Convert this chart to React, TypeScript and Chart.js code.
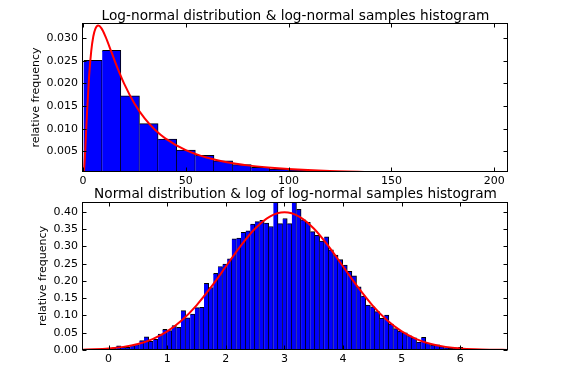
import React, { useEffect, useRef } from "react";
import { Chart, registerables } from "chart.js";

Chart.register(...registerables);
Chart.defaults.color = "#000";
Chart.defaults.font.family = "'DejaVu Sans', sans-serif";

// ---------- text ----------
const topTitle = "Log-normal distribution & log-normal samples histogram";
const bottomTitle = "Normal distribution & log of log-normal samples histogram";
const yLabel = "relative frequency";

// ---------- top chart (log-normal) ----------
const topXRange = [0, 206.7];
const topYRange = [0.00046, 0.03331];
const topXTicks = [0, 50, 100, 150, 200];
const topYTicks = [0.005, 0.01, 0.015, 0.02, 0.025, 0.03];
const topBinStart = 0.29;
const topBinWidth = 9.06;
const topHist = [
  0.02506, 0.02727, 0.01728, 0.01111, 0.00773, 0.00531, 0.00412, 0.00295,
  0.00207, 0.00148, 0.00112, 0.00092, 0.00072, 0.0006, 0.0005, 0.0004,
  0.00032, 0.00026, 0.0002, 0.00016, 0.00013, 0.0001, 0.00008,
];
const topCurveX = [
  0.3, 0.5, 0.75, 1, 1.5, 2, 3, 4, 5, 6, 7.4, 9, 11, 14, 17, 20, 25, 30, 35,
  40, 50, 60, 70, 80, 90, 100, 120, 140, 160, 180, 206.7,
];
const topCurveY = [
  0.00019, 0.00087, 0.00239, 0.00443, 0.00918, 0.01394, 0.02181, 0.02713,
  0.03034, 0.03204, 0.03274, 0.03212, 0.03025, 0.0267, 0.02314, 0.01995,
  0.01558, 0.01227, 0.00977, 0.00787, 0.00527, 0.00365, 0.00262, 0.00192,
  0.00144, 0.0011, 0.00067, 0.00043, 0.00029, 0.0002, 0.00013,
];

// ---------- bottom chart (normal / log of samples) ----------
const lowXRange = [-0.437, 6.813];
const lowYRange = [0, 0.4289];
const lowXTicks = [0, 1, 2, 3, 4, 5, 6];
const lowYTicks = [0, 0.05, 0.1, 0.15, 0.2, 0.25, 0.3, 0.35, 0.4];
const lowBinStart = -0.0262;
const lowBinWidth = 0.0788;
const lowHist = [
  0.004, 0.006, 0.012, 0.008, 0.008, 0.013, 0.016, 0.027, 0.038, 0.025,
  0.031, 0.046, 0.06, 0.056, 0.071, 0.066, 0.114, 0.093, 0.104, 0.123,
  0.124, 0.193, 0.181, 0.222, 0.242, 0.249, 0.264, 0.322, 0.324, 0.341,
  0.345, 0.365, 0.372, 0.376, 0.368, 0.358, 0.435, 0.366, 0.381, 0.366,
  0.435, 0.408, 0.377, 0.37, 0.343, 0.332, 0.316, 0.328, 0.29, 0.275,
  0.262, 0.246, 0.228, 0.215, 0.183, 0.156, 0.13, 0.125, 0.111, 0.092,
  0.101, 0.075, 0.062, 0.054, 0.05, 0.041, 0.035, 0.023, 0.037, 0.019,
  0.014, 0.015, 0.01, 0.007, 0.005, 0.006, 0.008, 0,
];
const lowCurveX = [
  -0.437, -0.25, 0, 0.25, 0.5, 0.75, 1, 1.25, 1.5, 1.75, 2, 2.25, 2.5, 2.75,
  3, 3.25, 3.5, 3.75, 4, 4.25, 4.5, 4.75, 5, 5.25, 5.5, 5.75, 6, 6.25, 6.5,
  6.813,
];
const lowCurveY = [
  0.00108, 0.00203, 0.00443, 0.00909, 0.01753, 0.03174, 0.05399, 0.08628,
  0.12952, 0.18265, 0.24197, 0.30114, 0.35207, 0.38667, 0.39894, 0.38667,
  0.35207, 0.30114, 0.24197, 0.18265, 0.12952, 0.08628, 0.05399, 0.03174,
  0.01753, 0.00909, 0.00443, 0.00203, 0.00087, 0.00028,
];

const W = 577;
const FONT = "'DejaVu Sans', sans-serif";

const framePlugin = (xTicks: number[], yTicks: number[], title: string, titleBaseline: number) => ({
  id: "frameTicks",
  afterDatasetsDraw(chart: any) {
    const { ctx, chartArea: a, scales } = chart;
    const l = Math.floor(a.left) - 0.5;
    const r = Math.floor(a.right) - 0.5;
    const t = Math.floor(a.top) + 0.5;
    const b = Math.floor(a.bottom) - 0.5;
    ctx.save();
    ctx.strokeStyle = "#000";
    ctx.lineWidth = 1;
    ctx.strokeRect(l, t, r - l, b - t);
    ctx.beginPath();
    const tl = 4;
    xTicks.forEach((v) => {
      const p = Math.round(scales.x.getPixelForValue(v)) + 0.5;
      ctx.moveTo(p, b);
      ctx.lineTo(p, b - tl);
      ctx.moveTo(p, t);
      ctx.lineTo(p, t + tl);
    });
    yTicks.forEach((v) => {
      const p = Math.round(scales.y.getPixelForValue(v)) + 0.5;
      ctx.moveTo(l, p);
      ctx.lineTo(l + tl, p);
      ctx.moveTo(r, p);
      ctx.lineTo(r - tl, p);
    });
    ctx.stroke();
    // axes title, centred over the plot area
    ctx.fillStyle = "#000";
    ctx.font = `13.7px ${FONT}`;
    ctx.textAlign = "center";
    ctx.textBaseline = "alphabetic";
    ctx.fillText(title, (a.left + a.right) / 2, titleBaseline);
    ctx.restore();
  },
});

function buildConfig(opts: {
  title: string;
  titleBaseline: number;
  padTop: number;
  xRange: number[];
  yRange: number[];
  xTicks: number[];
  yTicks: number[];
  yDecimals: number;
  xAxisHeight: number;
  yTitlePad: number;
  binStart: number;
  binWidth: number;
  hist: number[];
  curveX: number[];
  curveY: number[];
}): any {
  const tickFont = { family: FONT, size: 11 };
  return {
    type: "bar",
    data: {
      datasets: [
        {
          type: "line",
          data: opts.curveX.map((x, i) => ({ x, y: opts.curveY[i] })),
          borderColor: "#ff0000",
          borderWidth: 2,
          pointRadius: 0,
          fill: false,
          cubicInterpolationMode: "monotone",
          order: 0,
        },
        {
          type: "bar",
          data: opts.hist.map((v, i) => ({
            x: opts.binStart + opts.binWidth * (i + 0.5),
            y: v,
          })),
          backgroundColor: "#0000ff",
          borderColor: "#000",
          borderWidth: { top: 1, right: 1, left: 0, bottom: 0 },
          borderSkipped: false,
          barPercentage: 1,
          categoryPercentage: 1,
          order: 1,
        },
      ],
    },
    options: {
      animation: false,
      responsive: false,
      devicePixelRatio: 1,
      layout: { padding: { left: 0, right: W - 508, top: opts.padTop, bottom: 0 } },
      plugins: {
        legend: { display: false },
        tooltip: { enabled: false },
        title: { display: false },
      },
      scales: {
        x: {
          type: "linear",
          min: opts.xRange[0],
          max: opts.xRange[1],
          offset: false,
          grid: { display: false, drawTicks: false, offset: false },
          border: { display: false },
          ticks: {
            font: tickFont,
            color: "#000",
            padding: 3,
            autoSkip: false,
            maxRotation: 0,
            includeBounds: false,
            callback: (v: number) => String(v),
          },
          afterBuildTicks: (s: any) => {
            s.ticks = opts.xTicks.map((v) => ({ value: v }));
          },
          afterFit: (s: any) => {
            s.height = opts.xAxisHeight;
          },
        },
        y: {
          type: "linear",
          min: opts.yRange[0],
          max: opts.yRange[1],
          grid: { display: false, drawTicks: false },
          border: { display: false },
          ticks: {
            font: tickFont,
            color: "#000",
            padding: 5,
            includeBounds: false,
            callback: (v: number) => Number(v).toFixed(opts.yDecimals),
          },
          afterBuildTicks: (s: any) => {
            s.ticks = opts.yTicks.map((v) => ({ value: v }));
          },
          afterFit: (s: any) => {
            s.width = 83;
          },
          title: {
            display: true,
            text: yLabel,
            color: "#000",
            font: { family: FONT, size: 11 },
            padding: { top: opts.yTitlePad, bottom: 0 },
          },
        },
      },
    },
    plugins: [framePlugin(opts.xTicks, opts.yTicks, opts.title, opts.titleBaseline)],
  };
}

function ChartCanvas({ top, height, config }: { top: number; height: number; config: () => any }) {
  const ref = useRef<HTMLCanvasElement>(null);
  useEffect(() => {
    const chart = new Chart(ref.current as HTMLCanvasElement, config());
    return () => chart.destroy();
  }, []);
  return (
    <canvas
      ref={ref}
      width={W}
      height={height}
      style={{ position: "absolute", left: 0, top, width: W, height }}
    />
  );
}

export default function App() {
  return (
    <div style={{ position: "absolute", left: 0, top: 0, width: W, height: 377, background: "#fff" }}>
      <ChartCanvas
        top={0}
        height={188}
        config={() =>
          buildConfig({
            title: topTitle,
            titleBaseline: 19.5,
            padTop: 23,
            xRange: topXRange,
            yRange: topYRange,
            xTicks: topXTicks,
            yTicks: topYTicks,
            yDecimals: 3,
            xAxisHeight: 16,
            yTitlePad: 30,
            binStart: topBinStart,
            binWidth: topBinWidth,
            hist: topHist,
            curveX: topCurveX,
            curveY: topCurveY,
          })
        }
      />
      <ChartCanvas
        top={180}
        height={197}
        config={() =>
          buildConfig({
            title: bottomTitle,
            titleBaseline: 17.5,
            padTop: 22,
            xRange: lowXRange,
            yRange: lowYRange,
            xTicks: lowXTicks,
            yTicks: lowYTicks,
            yDecimals: 2,
            xAxisHeight: 27,
            yTitlePad: 37,
            binStart: lowBinStart,
            binWidth: lowBinWidth,
            hist: lowHist,
            curveX: lowCurveX,
            curveY: lowCurveY,
          })
        }
      />
    </div>
  );
}
